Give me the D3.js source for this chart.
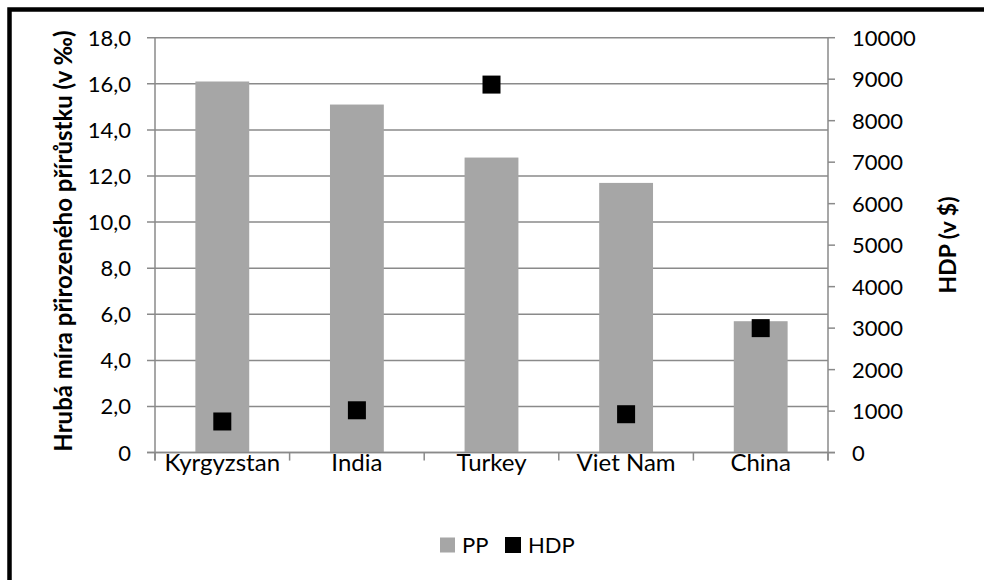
<!DOCTYPE html>
<html>
<head>
<meta charset="utf-8">
<script src="https://cdn.jsdelivr.net/npm/d3@7/dist/d3.min.js"></script>
<style>
  html, body { margin: 0; padding: 0; background: #fff; }
  svg { display: block; }
  text { font-family: Lato, "Open Sans", sans-serif; fill: #000; }
</style>
</head>
<body>
<div id="chart"></div>
<script>
// Crude rate of natural increase (per mille) vs. GDP per capita (USD)
const categories = ["Kyrgyzstan", "India", "Turkey", "Viet Nam", "China"];
const ppValues = [16.1, 15.1, 12.8, 11.7, 5.7];
const hdpValues = [750, 1020, 8870, 925, 3000];
const leftTicks = [0, 2, 4, 6, 8, 10, 12, 14, 16, 18];
const rightTicks = [0, 1000, 2000, 3000, 4000, 5000, 6000, 7000, 8000, 9000, 10000];
const seriesNames = ["PP", "HDP"];
const leftTitle = "Hrubá míra přirozeného přírůstku (v ‰)";
const rightTitle = "HDP (v $)";

const W = 984, H = 580;
const plot = { left: 155, right: 828, top: 37.7, bottom: 452.6 };
const gridColor = "#8a8a8a";
const barColor = "#a6a6a6";

const svg = d3.select("#chart").append("svg")
  .attr("width", W).attr("height", H);

// outer frame
svg.append("rect")
  .attr("x", 9.5).attr("y", 9.5)
  .attr("width", 1100).attr("height", 700)
  .attr("fill", "none").attr("stroke", "#000").attr("stroke-width", 4.5);

const x = d3.scaleBand().domain(categories)
  .range([plot.left, plot.right]).paddingInner(0.6).paddingOuter(0.3);
const xEdges = d3.scaleBand().domain(categories)
  .range([plot.left, plot.right]).padding(0);
const yL = d3.scaleLinear().domain([0, 18]).range([plot.bottom, plot.top]);
const yR = d3.scaleLinear().domain([0, 10000]).range([plot.bottom, plot.top]);

const fmtL = v => v === 0 ? "0" : v.toFixed(1).replace(".", ",");

// horizontal gridlines (with outward ticks on the left)
svg.append("g").selectAll("line").data(leftTicks).join("line")
  .attr("x1", plot.left - 8).attr("x2", plot.right)
  .attr("y1", d => yL(d)).attr("y2", d => yL(d))
  .attr("stroke", gridColor).attr("stroke-width", 1.5);

// bars
svg.append("g").selectAll("rect").data(categories).join("rect")
  .attr("x", d => x(d))
  .attr("width", x.bandwidth())
  .attr("y", (d, i) => yL(ppValues[i]))
  .attr("height", (d, i) => yL(0) - yL(ppValues[i]))
  .attr("fill", barColor);

// axis lines
const axisG = svg.append("g").attr("stroke", gridColor).attr("stroke-width", 1.5);
axisG.append("line").attr("x1", plot.left).attr("x2", plot.left)
  .attr("y1", plot.top).attr("y2", plot.bottom + 8);
axisG.append("line").attr("x1", plot.right).attr("x2", plot.right)
  .attr("y1", plot.top).attr("y2", plot.bottom + 8);
axisG.append("line").attr("x1", plot.left - 8).attr("x2", plot.right + 7)
  .attr("y1", plot.bottom).attr("y2", plot.bottom);

// category boundary ticks
const edges = categories.map(c => xEdges(c)).concat([plot.right]);
axisG.selectAll("line.xt").data(edges).join("line").attr("class", "xt")
  .attr("x1", d => d).attr("x2", d => d)
  .attr("y1", plot.bottom).attr("y2", plot.bottom + 8);

// right axis ticks
axisG.selectAll("line.rt").data(rightTicks).join("line").attr("class", "rt")
  .attr("x1", plot.right).attr("x2", plot.right + 7)
  .attr("y1", d => yR(d)).attr("y2", d => yR(d));

// left tick labels
svg.append("g").selectAll("text").data(leftTicks).join("text")
  .attr("x", 131).attr("y", d => yL(d)).attr("dy", "0.36em")
  .attr("text-anchor", "end").attr("font-size", 22)
  .text(fmtL);

// right tick labels
svg.append("g").selectAll("text").data(rightTicks).join("text")
  .attr("x", 852).attr("y", d => yR(d)).attr("dy", "0.36em")
  .attr("text-anchor", "start").attr("font-size", 22)
  .text(d => d);

// category labels
svg.append("g").selectAll("text").data(categories).join("text")
  .attr("x", d => x(d) + x.bandwidth() / 2).attr("y", 471)
  .attr("text-anchor", "middle").attr("font-size", 24)
  .text(d => d);

// HDP markers
const ms = 18;
svg.append("g").selectAll("rect").data(categories).join("rect")
  .attr("x", d => x(d) + x.bandwidth() / 2 - ms / 2)
  .attr("y", (d, i) => yR(hdpValues[i]) - ms / 2)
  .attr("width", ms).attr("height", ms)
  .attr("fill", "#000");

// axis titles
svg.append("text")
  .attr("transform", `translate(72, 241) rotate(-90)`)
  .attr("text-anchor", "middle").attr("font-size", 24).attr("font-weight", "bold")
  .text(leftTitle);
svg.append("text")
  .attr("transform", `translate(956, 245) rotate(-90)`)
  .attr("text-anchor", "middle").attr("font-size", 23).attr("font-weight", "bold")
  .text(rightTitle);

// legend
const legend = svg.append("g");
const legendItems = [
  { name: seriesNames[0], color: barColor, x: 440, size: 15 },
  { name: seriesNames[1], color: "#000", x: 505, size: 16 }
];
legendItems.forEach(it => {
  legend.append("rect").attr("x", it.x).attr("y", 545 - it.size / 2)
    .attr("width", it.size).attr("height", it.size).attr("fill", it.color);
  legend.append("text").attr("x", it.x + it.size + 7).attr("y", 545).attr("dy", "0.36em")
    .attr("font-size", 22).text(it.name);
});
</script>
</body>
</html>
